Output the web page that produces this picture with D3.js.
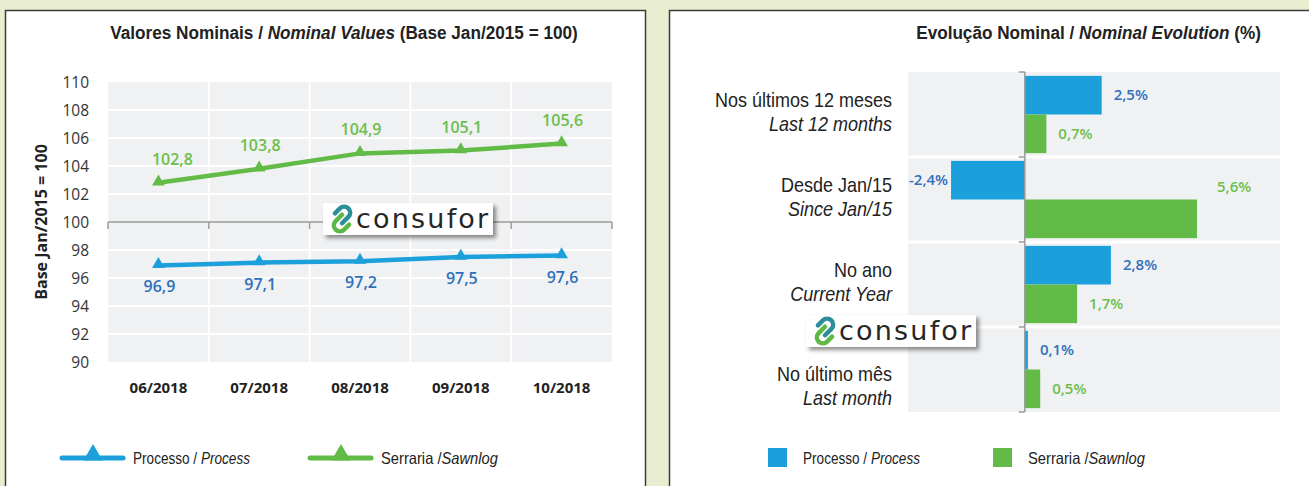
<!DOCTYPE html>
<html>
<head>
<meta charset="utf-8">
<script src="https://cdn.jsdelivr.net/npm/d3@7"></script>
<style>
  body { margin: 0; background: #e8eecf; }
  svg { display: block; }
</style>
</head>
<body>
<div id="vis"></div>
<script>
// left chart data
const months = ["06/2018", "07/2018", "08/2018", "09/2018", "10/2018"]
const processo = [96.9, 97.1, 97.2, 97.5, 97.6]
const serraria = [102.8, 103.8, 104.9, 105.1, 105.6]
const yTicks = [90, 92, 94, 96, 98, 100, 102, 104, 106, 108, 110]

// right chart data
const periodsPt = ["Nos últimos 12 meses", "Desde Jan/15", "No ano", "No último mês"]
const periodsEn = ["Last 12 months", "Since Jan/15", "Current Year", "Last month"]
const processoPct = [2.5, -2.4, 2.8, 0.1]
const serrariaPct = [0.7, 5.6, 1.7, 0.5]

const BLUE = "#1ca0db", GREEN = "#63bb47"
const BLUE_TXT = "#2f6fbc", GREEN_TXT = "#6cbf4c"
const NARROW = "'Liberation Sans', Arial, sans-serif"
const SANS = "'Open Sans', sans-serif"

const fmt = v => v.toFixed(1).replace(".", ",")

// squeeze a text horizontally so it takes `w` px, keeping its anchor point
function fit(sel, w) {
  sel.each(function () {
    var t = d3.select(this)
    var len = this.getComputedTextLength()
    var ax = +t.attr("x")
    var k = w / len
    t.attr("transform", "translate(" + ax + ",0) scale(" + k + ",1) translate(" + (-ax) + ",0)")
  })
}

var svg = d3.select("#vis").append("svg")
  .attr("width", 1309)
  .attr("height", 486)

var defs = svg.append("defs")
var shadow = defs.append("filter").attr("id", "shadow")
  .attr("x", "-10%").attr("y", "-20%").attr("width", "130%").attr("height", "160%")
shadow.append("feDropShadow")
  .attr("dx", 3).attr("dy", 3).attr("stdDeviation", 2)
  .attr("flood-color", "#000").attr("flood-opacity", 0.45)

svg.append("rect").attr("width", 1309).attr("height", 486).attr("fill", "#e8eecf")

// panels
svg.append("rect")
  .attr("x", 5.5).attr("y", 10.5).attr("width", 640).attr("height", 500)
  .attr("fill", "#fff").attr("stroke", "#3c3c3c").attr("stroke-width", 1.5)
svg.append("rect")
  .attr("x", 669.5).attr("y", 10.5).attr("width", 660).attr("height", 500)
  .attr("fill", "#fff").attr("stroke", "#3c3c3c").attr("stroke-width", 1.5)

// consufor logo
function logo(g, x, y) {
  var lg = g.append("g").attr("transform", "translate(" + x + "," + y + ")")
  lg.append("rect").attr("width", 170).attr("height", 32)
    .attr("fill", "#fff").attr("filter", "url(#shadow)")
  var ic = lg.append("g").attr("transform", "translate(19,16) rotate(-45)")
  ic.append("path")
    .attr("d", "M3,-3 L-6,-3 A6,6 0 0 0 -6,9 L1,9")
    .attr("fill", "none").attr("stroke", "#5db845").attr("stroke-width", 4.5)
    .attr("stroke-linecap", "round")
  ic.append("path")
    .attr("d", "M-3,3 L6,3 A6,6 0 0 0 6,-9 L-1,-9")
    .attr("fill", "none").attr("stroke", "#2a8f9a").attr("stroke-width", 4.5)
    .attr("stroke-linecap", "round")
  lg.append("text")
    .attr("x", 33).attr("y", 25)
    .attr("font-family", "'DejaVu Sans', sans-serif")
    .attr("font-size", 27)
    .attr("letter-spacing", 2.2)
    .attr("fill", "#262626")
    .text("consufor")
}

// ---------------- left: nominal values ----------------
var left = svg.append("g")

left.append("text")
  .attr("x", 344).attr("y", 39)
  .attr("text-anchor", "middle")
  .attr("font-family", NARROW).attr("font-weight", "bold").attr("font-size", 18.5)
  .attr("fill", "#222")
  .call(t => {
    t.append("tspan").text("Valores Nominais / ")
    t.append("tspan").attr("font-style", "italic").text("Nominal Values")
    t.append("tspan").text(" (Base Jan/2015 = 100)")
  })
  .call(fit, 468)

var x = d3.scaleBand().domain(months).range([108, 612])
var y = d3.scaleLinear().domain([90, 110]).range([362, 82])

left.append("rect")
  .attr("x", 108).attr("y", y(110))
  .attr("width", 504).attr("height", y(90) - y(110))
  .attr("fill", "#f0f1f3")

// white grid
left.append("g").selectAll("line")
  .data(yTicks.filter(d => d !== 100 && d !== 90 && d !== 110))
  .enter().append("line")
  .attr("x1", 108).attr("x2", 612)
  .attr("y1", d => y(d)).attr("y2", d => y(d))
  .attr("stroke", "#fff").attr("stroke-width", 2)
left.append("g").selectAll("line")
  .data(months.slice(1))
  .enter().append("line")
  .attr("x1", d => x(d)).attr("x2", d => x(d))
  .attr("y1", y(110)).attr("y2", y(90))
  .attr("stroke", "#fff").attr("stroke-width", 2)

// y axis
left.append("g")
  .attr("transform", "translate(89,0)")
  .call(d3.axisLeft(y).tickValues(yTicks).tickSize(0).tickPadding(0))
  .call(g => g.select(".domain").remove())
  .selectAll("text")
  .attr("font-family", SANS).attr("font-size", 15.5).attr("fill", "#333")
  .attr("text-anchor", "end").attr("dy", "0.35em")

left.append("text")
  .attr("transform", "translate(47," + y(100) + ") rotate(-90)")
  .attr("text-anchor", "middle")
  .attr("font-family", SANS).attr("font-weight", "bold").attr("font-size", 16)
  .attr("fill", "#222")
  .text("Base Jan/2015 = 100")

// base 100 line with ticks at category boundaries
var baseY = y(100)
left.append("line")
  .attr("x1", 108).attr("x2", 612).attr("y1", baseY).attr("y2", baseY)
  .attr("stroke", "#9a9a9a").attr("stroke-width", 1.5)
left.append("g").selectAll("line")
  .data(months.concat(["end"]))
  .enter().append("line")
  .attr("x1", (d, i) => 108 + i * x.step()).attr("x2", (d, i) => 108 + i * x.step())
  .attr("y1", baseY).attr("y2", baseY + 7)
  .attr("stroke", "#9a9a9a").attr("stroke-width", 1.5)

// x axis labels
left.append("g")
  .attr("transform", "translate(0,388)")
  .call(d3.axisBottom(x).tickSize(0).tickPadding(0))
  .call(g => g.select(".domain").remove())
  .selectAll("text")
  .attr("font-family", SANS).attr("font-weight", "bold").attr("font-size", 15)
  .attr("fill", "#222").attr("dy", "0.35em")

var cx = d => x(d) + x.bandwidth() / 2
var tri = d3.symbol().type(d3.symbolTriangle).size(70)

function series(values, color) {
  var pts = months.map((m, i) => [cx(m), y(values[i])])
  left.append("path")
    .attr("d", d3.line()(pts))
    .attr("fill", "none").attr("stroke", color).attr("stroke-width", 4.5)
  left.append("g").selectAll("path")
    .data(pts).enter().append("path")
    .attr("d", tri)
    .attr("transform", d => "translate(" + d[0] + "," + (d[1] - 1) + ")")
    .attr("fill", color)
}
series(serraria, GREEN)
series(processo, BLUE)

left.append("g").selectAll("text")
  .data(serraria).enter().append("text")
  .attr("x", (d, i) => cx(months[i]) + (i === 0 ? 14 : 1))
  .attr("y", d => y(d) - 18)
  .attr("text-anchor", "middle")
  .attr("font-family", SANS).attr("font-weight", 600).attr("font-size", 16)
  .attr("fill", GREEN_TXT)
  .text(fmt)

left.append("g").selectAll("text")
  .data(processo).enter().append("text")
  .attr("x", (d, i) => cx(months[i]) + 1)
  .attr("y", d => y(d) + 27)
  .attr("text-anchor", "middle")
  .attr("font-family", SANS).attr("font-weight", 600).attr("font-size", 16)
  .attr("fill", BLUE_TXT)
  .text(fmt)

logo(left, 323, 203)

// left legend
var legL = [{ name: "Processo / ", it: "Process", color: BLUE, x: 62 },
            { name: "Serraria /", it: "Sawnlog", color: GREEN, x: 310 }]
var ll = left.append("g").selectAll("g").data(legL).enter().append("g")
  .attr("transform", d => "translate(" + d.x + ",458)")
ll.append("line").attr("x1", 0).attr("x2", 61).attr("y1", 0).attr("y2", 0)
  .attr("stroke", d => d.color).attr("stroke-width", 5).attr("stroke-linecap", "round")
ll.append("path").attr("d", d3.symbol().type(d3.symbolTriangle).size(160))
  .attr("transform", "translate(31,-3)")
  .attr("fill", d => d.color)
ll.append("text")
  .attr("x", 71).attr("y", 6)
  .attr("font-family", NARROW).attr("font-size", 16.5).attr("fill", "#222")
  .call(t => {
    t.append("tspan").text(d => d.name)
    t.append("tspan").attr("font-style", "italic").text(d => d.it)
  })
  .call(fit, 117)

// ---------------- right: nominal evolution ----------------
var right = svg.append("g")

right.append("text")
  .attr("x", 1261).attr("y", 39)
  .attr("text-anchor", "end")
  .attr("font-family", NARROW).attr("font-weight", "bold").attr("font-size", 18.5)
  .attr("fill", "#222")
  .call(t => {
    t.append("tspan").text("Evolução Nominal / ")
    t.append("tspan").attr("font-style", "italic").text("Nominal Evolution")
    t.append("tspan").text(" (%)")
  })
  .call(fit, 345)

var yb = d3.scaleBand().domain(periodsPt).range([72, 412])
var inner = d3.scaleBand().domain(["p", "s"]).range([0, yb.bandwidth()])
  .paddingInner(0).paddingOuter(0.1)
var xp = d3.scaleLinear().domain([-3.8, 8.3]).range([908, 1280])

right.append("rect")
  .attr("x", 908).attr("y", 72).attr("width", 372).attr("height", 340)
  .attr("fill", "#f0f1f3")
right.append("g").selectAll("line")
  .data(periodsPt.slice(1)).enter().append("line")
  .attr("x1", 908).attr("x2", 1280)
  .attr("y1", d => yb(d)).attr("y2", d => yb(d))
  .attr("stroke", "#fff").attr("stroke-width", 3)

var rows = periodsPt.map((p, i) => ({ p: p, en: periodsEn[i], proc: processoPct[i], serr: serrariaPct[i] }))
var bars = []
rows.forEach(r => {
  bars.push({ p: r.p, k: "p", v: r.proc, color: BLUE, txt: BLUE_TXT })
  bars.push({ p: r.p, k: "s", v: r.serr, color: GREEN, txt: GREEN_TXT })
})

right.append("g").selectAll("rect")
  .data(bars).enter().append("rect")
  .attr("x", d => xp(Math.min(0, d.v)))
  .attr("y", d => yb(d.p) + inner(d.k))
  .attr("width", d => Math.abs(xp(d.v) - xp(0)))
  .attr("height", inner.bandwidth())
  .attr("fill", d => d.color)

// value labels (the biggest bar's label sits above its end)
right.append("g").selectAll("text")
  .data(bars).enter().append("text")
  .attr("x", d => d.v < 0 ? xp(d.v) - 3 : xp(d.v) + (d.v > 5 ? 20 : 12))
  .attr("y", d => yb(d.p) + inner(d.k) + (d.v > 5 ? -13 : inner.bandwidth() / 2))
  .attr("dy", "0.35em")
  .attr("text-anchor", d => d.v < 0 ? "end" : "start")
  .attr("font-family", SANS).attr("font-weight", 600).attr("font-size", 15)
  .attr("fill", d => d.txt)
  .text(d => fmt(d.v) + "%")

// zero axis with ticks on row boundaries
var x0 = xp(0)
right.append("line")
  .attr("x1", x0).attr("x2", x0).attr("y1", 72).attr("y2", 412)
  .attr("stroke", "#9a9a9a").attr("stroke-width", 1.5)
right.append("g").selectAll("line")
  .data(periodsPt.concat(["end"])).enter().append("line")
  .attr("x1", x0 - 6).attr("x2", x0)
  .attr("y1", (d, i) => 72 + i * yb.step()).attr("y2", (d, i) => 72 + i * yb.step())
  .attr("stroke", "#9a9a9a").attr("stroke-width", 1.5)

// category labels (last row pushed down below the logo), condensed look
var cl = right.append("g").selectAll("g")
  .data(rows).enter().append("g")
  .attr("transform", (d, i) => "translate(892," + (yb(d.p) + yb.bandwidth() / 2 + (i === 3 ? 11 : -8)) + ") scale(0.9,1)")
cl.append("text")
  .attr("text-anchor", "end")
  .attr("font-family", NARROW).attr("font-size", 20).attr("fill", "#222")
  .text(d => d.p)
cl.append("text")
  .attr("y", 25)
  .attr("text-anchor", "end")
  .attr("font-family", NARROW).attr("font-size", 20).attr("font-style", "italic").attr("fill", "#222")
  .text(d => d.en)

logo(right, 806, 315)

// right legend
var legR = [{ name: "Processo / ", it: "Process", color: BLUE, x: 768 },
            { name: "Serraria /", it: "Sawnlog", color: GREEN, x: 993 }]
var rl = right.append("g").selectAll("g").data(legR).enter().append("g")
  .attr("transform", d => "translate(" + d.x + ",448)")
rl.append("rect").attr("width", 19).attr("height", 19).attr("fill", d => d.color)
rl.append("text")
  .attr("x", 35).attr("y", 16)
  .attr("font-family", NARROW).attr("font-size", 16.5).attr("fill", "#222")
  .call(t => {
    t.append("tspan").text(d => d.name)
    t.append("tspan").attr("font-style", "italic").text(d => d.it)
  })
  .call(fit, 117)
</script>
</body>
</html>
